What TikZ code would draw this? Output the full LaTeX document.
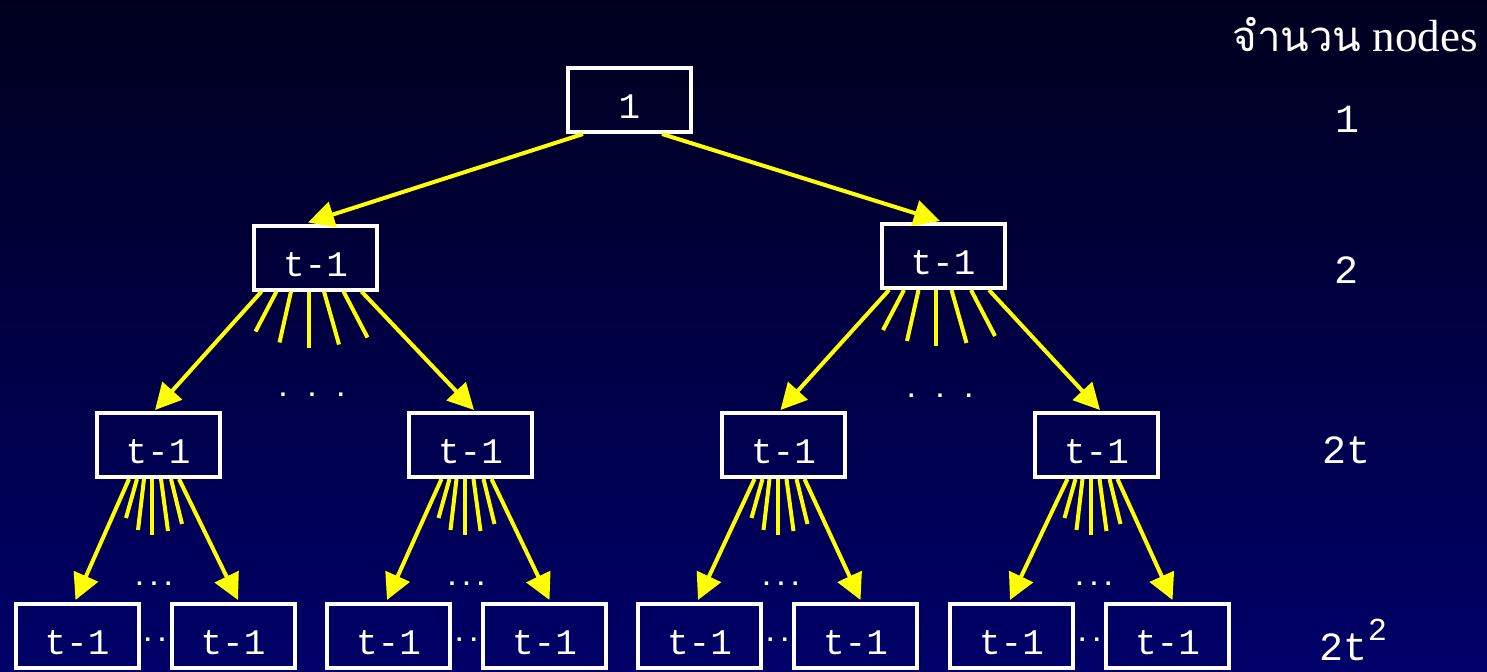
\documentclass[tikz,border=0pt]{standalone}
\usepackage{fontspec}
\setmainfont{Liberation Serif}
\setmonofont{Liberation Mono}
\newfontfamily\thaifont[Script=Thai]{Loma}
\usetikzlibrary{arrows.meta,calc}

\definecolor{bgtop}{HTML}{00001E}
\definecolor{bgbot}{HTML}{000068}
\definecolor{edgeyellow}{HTML}{FFFF00}

\tikzset{
  treebox/.style={draw=white, line width=2pt, minimum width=61.5pt,
    minimum height=32pt, inner sep=0pt, text=white,
    font=\ttfamily\fontsize{18}{18}\selectfont, text height=18.5pt, text depth=0pt},
  edgearrow/.style={draw=edgeyellow, line width=2pt,
    -{Triangle[length=13pt,width=13pt]}},
  fanline/.style={draw=edgeyellow, line width=2pt},
  dotlabel/.style={text=white, inner sep=0pt, anchor=base,
    font=\ttfamily\bfseries\fontsize{12}{12}\selectfont},
  countlabel/.style={text=white, inner sep=0pt, anchor=base,
    font=\ttfamily\fontsize{20}{20}\selectfont},
}

% spread of child pointers below an upper-level box
\newcommand\widefan[1]{%
  \foreach \sx/\ex/\ey in {-39/-60/40, -24.5/-36/51, -7/-7/56, 8.5/23.5/53, 28/52/46}
    \draw[fanline] ($(#1.south)+(\sx,0)$) -- ($(#1.south)+(\ex,\ey)$);}
\newcommand\narrowfan[1]{%
  \foreach \sx/\ex/\ey in {-21/-32/39, -14/-20/51, -6/-6/56, 3/10/52, 13/24/45}
    \draw[fanline] ($(#1.south)+(\sx,0)$) -- ($(#1.south)+(\ex,\ey)$);}

\begin{document}
\begin{tikzpicture}[x=0.5pt, y=-0.5pt]
  % background
  \shade[top color=bgtop, bottom color=bgbot] (0,0) rectangle (1487,671);
  \useasboundingbox (0,0) rectangle (1487,671);

  % root and first level
  \node[treebox] (r) at (629.5,100) {1};
  \node[treebox] (a) at (315.5,257.5) {t-1};
  \node[treebox] (b) at (943,256) {t-1};

  % second level
  \node[treebox] (a1) at (158,445) {t-1};
  \node[treebox] (a2) at (470.5,445) {t-1};
  \node[treebox] (b1) at (783.5,445) {t-1};
  \node[treebox] (b2) at (1096.5,445) {t-1};

  % leaves
  \foreach \n/\x in {a1l/77, a1r/233, a2l/388.5, a2r/544.5,
                     b1l/699.5, b1r/855.5, b2l/1011.5, b2r/1167.5}
    \node[treebox] (\n) at (\x,636) {t-1};

  % root to first level
  \draw[edgearrow] ($(r.south)+(-46.5,0)$) -- ($(a.north)+(-7.5,-1)$);
  \draw[edgearrow] ($(r.south)+(32.5,0)$) -- ($(b.north)+(-3,-1)$);

  % first level to second level
  \foreach \p/\c/\d in {a/a1/a2, b/b1/b2} {
    \draw[edgearrow] ($(\p.south)+(-54,0)$) -- ($(\c.north)+(-3,-1)$);
    \draw[edgearrow] ($(\p.south)+(46,0)$) -- ($(\d.north)+(3.5,-1)$);
    \widefan{\p}
  }

  % second level to leaves
  \foreach \p in {a1, a2, b1, b2} {
    \draw[edgearrow] ($(\p.south)+(-29,0)$) -- ($(\p l.north)+(-1.5,-2)$);
    \draw[edgearrow] ($(\p.south)+(21,0)$) -- ($(\p r.north)+(5,-2)$);
    \narrowfan{\p}
  }

  % ellipses for omitted children
  \node[dotlabel] (da) at (312,396) {.~.~.};
  \node[dotlabel] (db) at (940,397) {.~.~.};
  \foreach \p/\x in {a1/154, a2/466.5, b1/781, b2/1094}
    \node[dotlabel] (d\p) at (\x,585) {...};
  \foreach \p/\x in {a1/155, a2/466.5, b1/777.5, b2/1089.5}
    \node[dotlabel] (e\p) at (\x,641) {..};

  % node counts per level
  \node[text=white, inner sep=0pt, anchor=base west] (head) at (1232,51)
    {{\thaifont\fontsize{21}{21}\selectfont จำนวน}\fontsize{22.5}{22.5}\selectfont{} nodes};
  \node[countlabel] (c0) at (1347,132) {1};
  \node[countlabel] (c1) at (1346,283) {2};
  \node[countlabel] (c2) at (1346,463) {2t};
  \node[countlabel] (c3) at (1353.5,660) {2t\raisebox{10pt}{\fontsize{16}{16}\selectfont 2}};
\end{tikzpicture}
\end{document}
